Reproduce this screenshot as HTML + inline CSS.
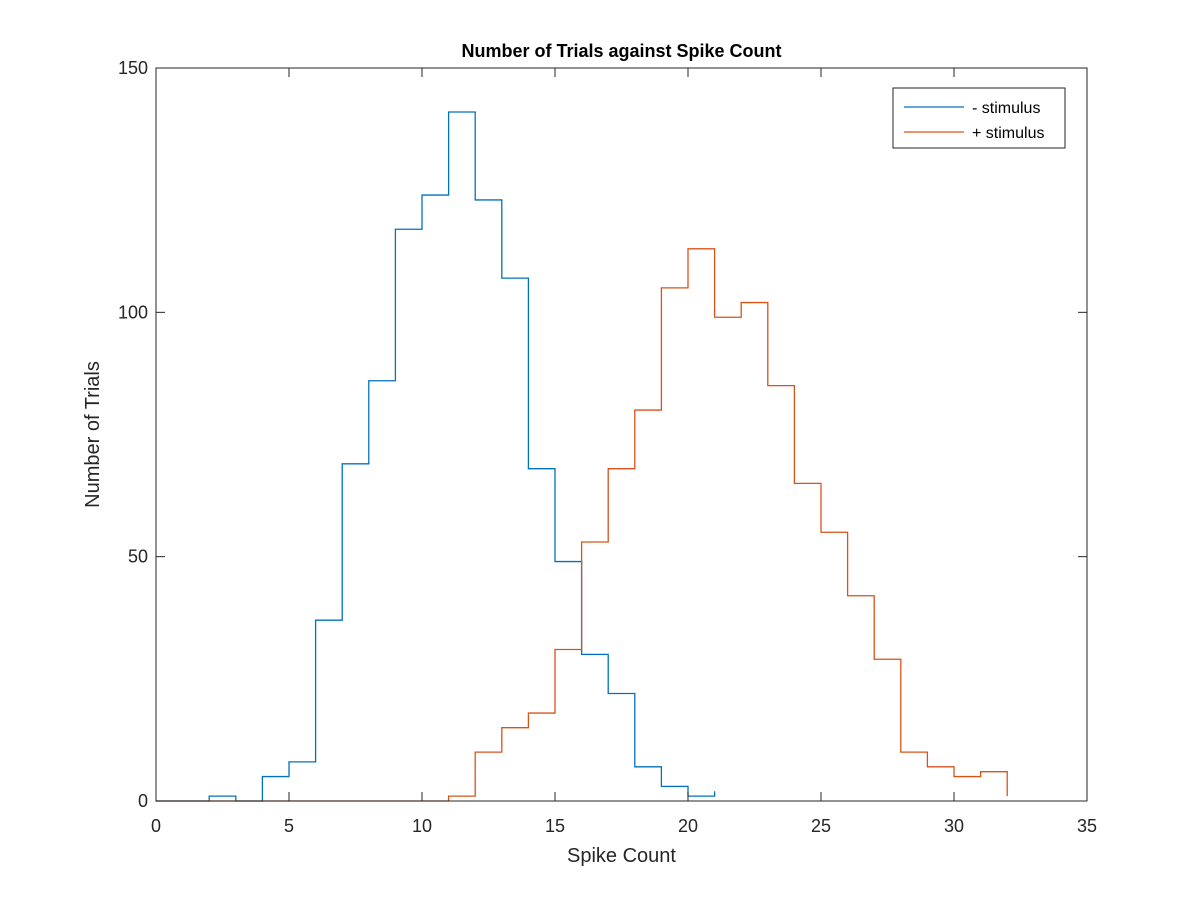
<!DOCTYPE html>
<html><head><meta charset="utf-8"><style>
html,body{margin:0;padding:0;background:#fff;}
svg{display:block;font-family:"Liberation Sans",Arial,sans-serif;}
</style></head><body>
<svg id="chart" width="1200" height="900">
<rect x="0" y="0" width="1200" height="900" fill="#fff"/>
<g id="plot"></g>
</svg>
<script>
const xTicks=[0,5,10,15,20,25,30,35];
const yTicks=[0,50,100,150];
const minusStimulus=[0,0,1,0,5,8,37,69,86,117,124,141,123,107,68,49,30,22,7,3,1,2];
const plusStimulus=[0,0,0,0,0,0,0,0,0,0,0,1,10,15,18,31,53,68,80,105,113,99,102,85,65,55,42,29,10,7,5,6,1];
const seriesNames=["- stimulus","+ stimulus"];

const L=156,R=1087,T=68,B=801;
const X=v=>L+(v-0)/(35-0)*(R-L);
const Y=v=>B-(v-0)/(150-0)*(B-T);
const NS="http://www.w3.org/2000/svg";
const g=document.getElementById('plot');
function mk(tag,attrs){const e=document.createElementNS(NS,tag);for(const k in attrs)e.setAttribute(k,attrs[k]);g.appendChild(e);return e;}

function stairs(vals,color,name){
  let d="M"+X(0)+","+Y(vals[0]);
  for(let i=0;i<vals.length-1;i++){d+=" L"+X(i+1)+","+Y(vals[i])+" L"+X(i+1)+","+Y(vals[i+1]);}
  const p=mk('path',{d:d,fill:'none',stroke:color,'stroke-width':1.3});
  
  
}
stairs(minusStimulus,'#0072BD','minus-stimulus-line');
stairs(plusStimulus,'#D95319','plus-stimulus-line');

const box=mk('rect',{x:L,y:T,width:R-L,height:B-T,fill:'none',stroke:'#262626','stroke-width':1});



xTicks.forEach(t=>{
  const x=X(t);
  mk('line',{x1:x,x2:x,y1:B,y2:B-9,stroke:'#262626'});
  mk('line',{x1:x,x2:x,y1:T,y2:T+9,stroke:'#262626'});
  const tx=mk('text',{x:x,y:B+31,'text-anchor':'middle','font-size':18,fill:'#262626'});
  tx.textContent=t;
  
  
});
yTicks.forEach(t=>{
  const y=Y(t);
  mk('line',{x1:L,x2:L+9,y1:y,y2:y,stroke:'#262626'});
  mk('line',{x1:R,x2:R-9,y1:y,y2:y,stroke:'#262626'});
  const tx=mk('text',{x:L-8,y:y+6,'text-anchor':'end','font-size':18,fill:'#262626'});
  tx.textContent=t;
  
  
});

const title=mk('text',{x:(L+R)/2,y:57,'text-anchor':'middle','font-size':18,'font-weight':'bold',fill:'#000'});
title.textContent="Number of Trials against Spike Count";


const xl=mk('text',{x:(L+R)/2,y:862,'text-anchor':'middle','font-size':20,fill:'#262626'});
xl.textContent="Spike Count";


const yl=mk('text',{x:0,y:0,'text-anchor':'middle','font-size':20,fill:'#262626',transform:'translate(99,'+((T+B)/2)+') rotate(-90)'});
yl.textContent="Number of Trials";



const lg=mk('rect',{x:893,y:88,width:172,height:60,fill:'#fff',stroke:'#262626','stroke-width':1});


const cols=['#0072BD','#D95319'];
seriesNames.forEach((n,i)=>{
  const y=107+i*25;
  mk('line',{x1:904,x2:964,y1:y,y2:y,stroke:cols[i],'stroke-width':1.3});
  const t=mk('text',{x:972,y:y+6,'font-size':16,fill:'#000'});
  t.textContent=n;
  
  
});
</script>
</body></html>
